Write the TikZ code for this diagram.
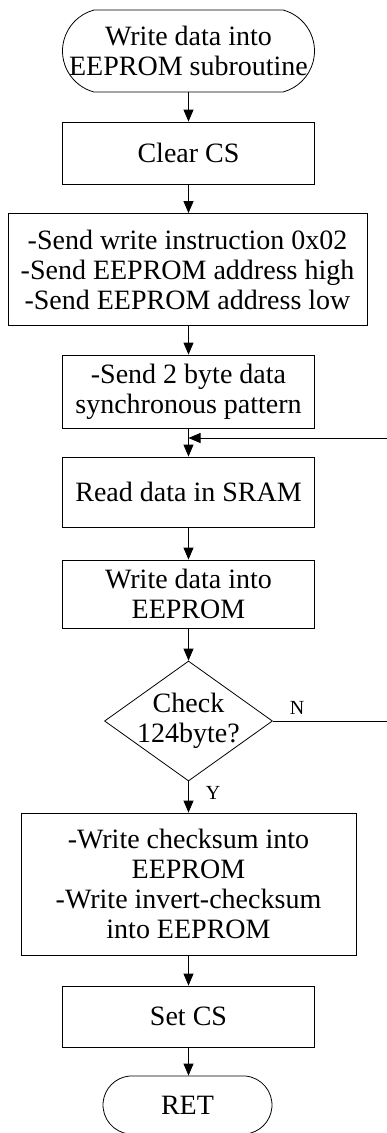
\documentclass[tikz,border=0pt]{standalone}
\usepackage{fontspec}
\setmainfont{Liberation Serif}
\usetikzlibrary{arrows.meta,shapes.misc,shapes.geometric}
\begin{document}
\begin{tikzpicture}[x=1pt,y=-1pt,
  line width=0.8pt,
  txt/.style={font=\fontsize{28}{30}\selectfont, align=center, inner sep=0pt},
  lbl/.style={font=\fontsize{20}{22}\selectfont, inner sep=0pt},
  procbox/.style={draw, rectangle, inner sep=0pt, align=center,
    font=\fontsize{28}{30}\selectfont},
  term/.style={draw, rounded rectangle, inner sep=0pt},
  decision/.style={draw, diamond, inner sep=0pt},
  arr/.style={-{Triangle[length=12pt,width=10pt]}}
]
\useasboundingbox (0,0) rectangle (386,1133);

% start terminator
\node[term, rounded rectangle arc length=150, minimum width=252pt, minimum height=82pt] (start) at (188.5,51) {};
\node[txt] at (start.center) {Write data into\\EEPROM subroutine};

% processing steps
\node[procbox, minimum width=252pt, minimum height=62pt] (clear) at (188.5,153) {Clear CS};
\node[procbox, minimum width=359pt, minimum height=112pt] (send) at (187.5,269.5)
  {-Send write instruction 0x02\\-Send EEPROM address high\\-Send EEPROM address low};
\node[procbox, minimum width=252pt, minimum height=73pt] (sync) at (188.5,391.5)
  {-Send 2 byte data\\synchronous pattern};
\node[procbox, minimum width=252pt, minimum height=70pt] (read) at (188.5,492) {Read data in SRAM};
\node[procbox, minimum width=252pt, minimum height=68pt] (write) at (188.5,594) {Write data into\\EEPROM};

% decision
\node[decision, minimum width=168pt, minimum height=120pt] (dec) at (188.5,721) {};
\node[txt] at (dec.center) {Check\\124byte?};

\node[procbox, minimum width=335pt, minimum height=142pt] (chk) at (188.5,884)
  {-Write checksum into\\EEPROM\\-Write invert-checksum\\into EEPROM};
\node[procbox, minimum width=252pt, minimum height=61pt] (setcs) at (188.5,1016.5) {Set CS};

% end terminator
\node[term, rounded rectangle arc length=170, minimum width=169pt, minimum height=58pt] (ret) at (187.5,1105) {};
\node[txt] at (ret.center) {RET};

% main flow
\draw[arr] (start.south) -- (clear.north);
\draw[arr] (clear.south) -- (send.north -| clear.south);
\draw[arr] (send.south -| clear.south) -- (sync.north);
\draw[arr] (sync.south) -- (read.north);
\draw[arr] (read.south) -- (write.north);
\draw[arr] (write.south) -- (dec.north);
\draw[arr] (dec.south) -- (chk.north -| dec.south);
\draw[arr] (chk.south -| setcs.north) -- (setcs.north);
\draw[arr] (setcs.south) -- (ret.north -| setcs.south);

% loop back on N
\coordinate (loopN) at (387,721);
\coordinate (loopR) at (387,438);
\draw[arr] (dec.east) -- (loopN) -- (loopR) -- (sync.south |- loopR);

% branch labels
\node[lbl] (nlab) at (297,708) {N};
\node[lbl] (ylab) at (213,793) {Y};
\end{tikzpicture}
\end{document}
